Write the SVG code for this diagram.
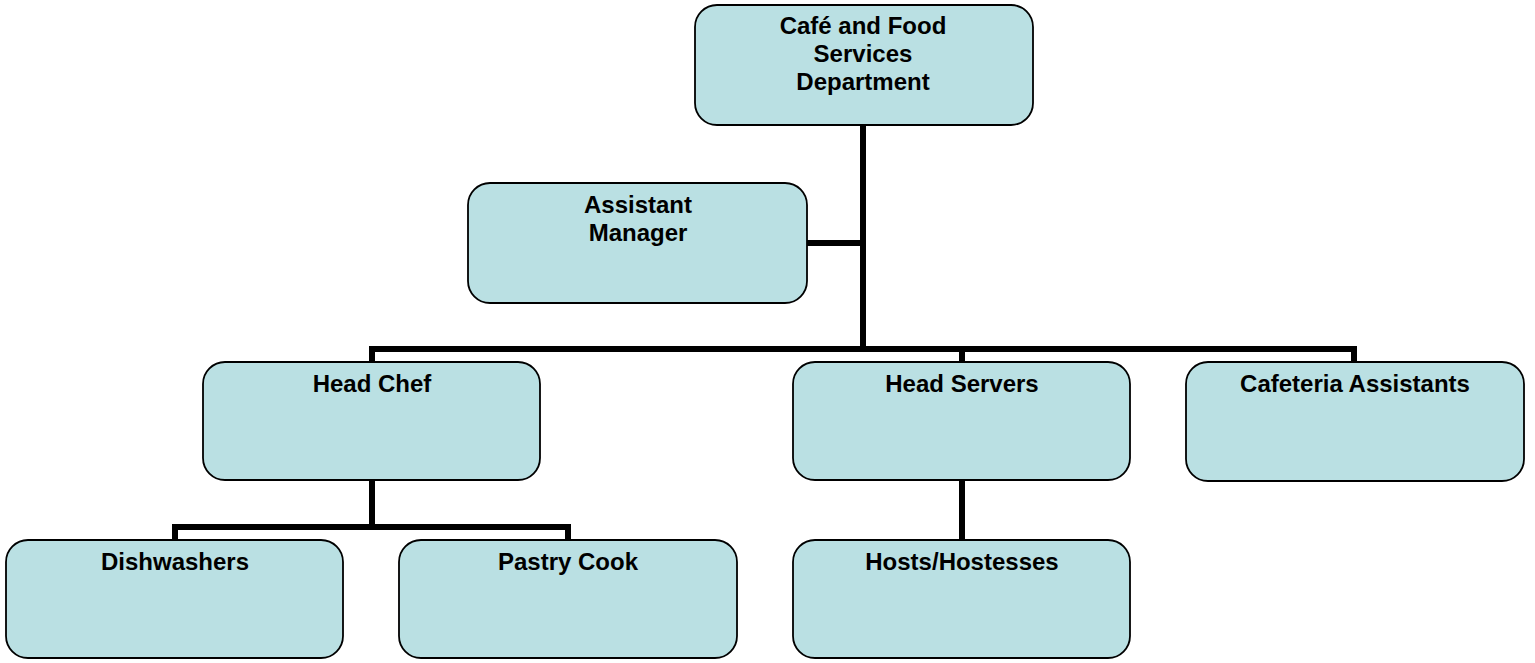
<svg xmlns="http://www.w3.org/2000/svg" width="1535" height="663" viewBox="0 0 1535 663">
  <style>
    .box { fill: #BAE0E3; stroke: #000; stroke-width: 1.8; }
    .lbl { font-family: "Liberation Sans", Arial, sans-serif; font-weight: bold; font-size: 24px; fill: #000; text-anchor: middle; }
    .wire { fill: none; stroke: #000; stroke-width: 6; stroke-linecap: butt; stroke-linejoin: miter; }
  </style>
  <rect width="1535" height="663" fill="#fff"/>

  <!-- connectors -->
  <g id="connectors">
    <path class="wire" d="M863 125 V349"/>
    <path class="wire" d="M807 243 H863"/>
    <path class="wire" d="M372 362 V349 H1354 V362"/>
    <path class="wire" d="M962 349 V362"/>
    <path class="wire" d="M372 480 V527"/>
    <path class="wire" d="M175 540 V527 H568 V540"/>
    <path class="wire" d="M962 480 V540"/>
  </g>

  <!-- nodes -->
  <g id="cafe-food-services">
    <rect class="box" x="695" y="5" width="338" height="120" rx="22"/>
    <text class="lbl" x="863" y="34">Café and Food</text>
    <text class="lbl" x="863" y="62">Services</text>
    <text class="lbl" x="863" y="90">Department</text>
  </g>
  <g id="assistant-manager">
    <rect class="box" x="468" y="183" width="339" height="120" rx="22"/>
    <text class="lbl" x="638" y="213">Assistant</text>
    <text class="lbl" x="638" y="241">Manager</text>
  </g>
  <g id="head-chef">
    <rect class="box" x="203" y="362" width="337" height="118" rx="22"/>
    <text class="lbl" x="372" y="392">Head Chef</text>
  </g>
  <g id="head-servers">
    <rect class="box" x="793" y="362" width="337" height="118" rx="22"/>
    <text class="lbl" x="962" y="392">Head Servers</text>
  </g>
  <g id="cafeteria-assistants">
    <rect class="box" x="1186" y="362" width="338" height="119" rx="22"/>
    <text class="lbl" x="1355" y="392">Cafeteria Assistants</text>
  </g>
  <g id="dishwashers">
    <rect class="box" x="6" y="540" width="337" height="118" rx="22"/>
    <text class="lbl" x="175" y="570">Dishwashers</text>
  </g>
  <g id="pastry-cook">
    <rect class="box" x="399" y="540" width="338" height="118" rx="22"/>
    <text class="lbl" x="568" y="570">Pastry Cook</text>
  </g>
  <g id="hosts-hostesses">
    <rect class="box" x="793" y="540" width="337" height="118" rx="22"/>
    <text class="lbl" x="962" y="570">Hosts/Hostesses</text>
  </g>
</svg>
